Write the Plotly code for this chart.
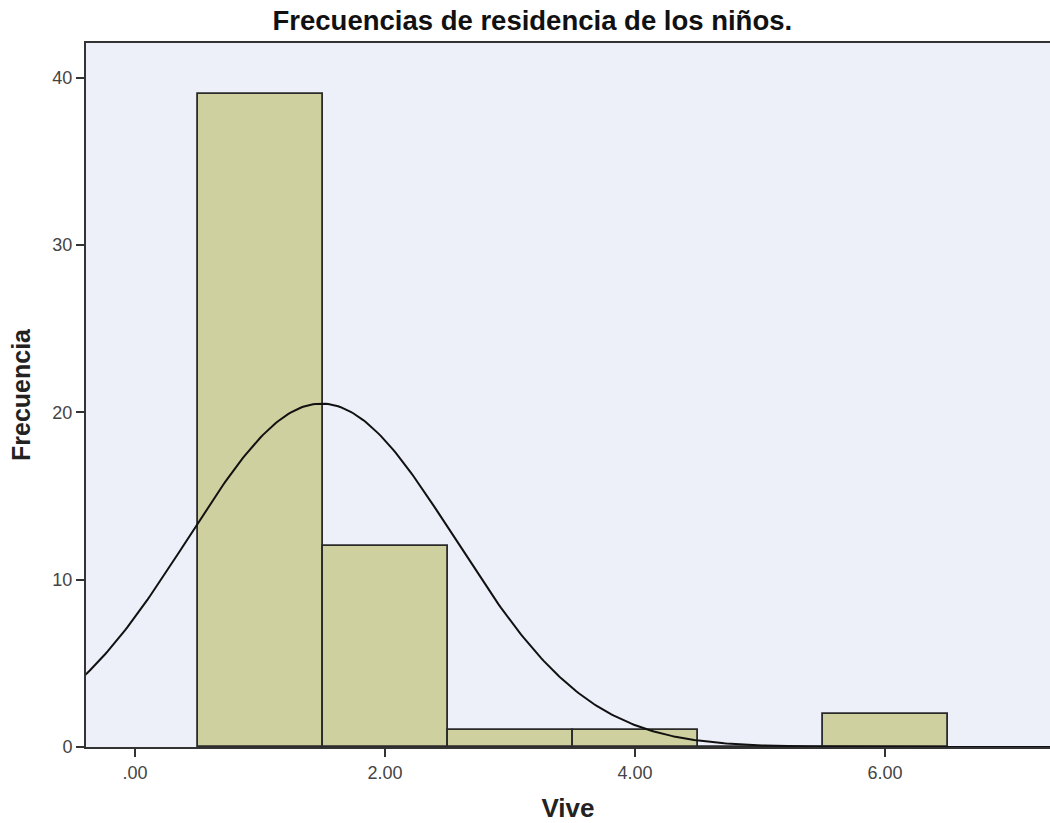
import numpy as np
import plotly.graph_objects as go

# Data
bin_centers = [1, 2, 3, 4, 5, 6]
counts = [39, 12, 1, 1, 0, 2]
x_tickvals = [0, 2, 4, 6]
x_ticktext = [".00", "2.00", "4.00", "6.00"]
y_tickvals = [0, 10, 20, 30, 40]

# Normal curve fitted from the histogram data (as SPSS does)
vals = np.repeat(bin_centers, counts)
n = len(vals)
mu = vals.mean()
sd = vals.std(ddof=1)
bin_width = 1.0
xs = np.linspace(-0.5, 7.5, 400)
ys = n * bin_width / (sd * np.sqrt(2 * np.pi)) * np.exp(-0.5 * ((xs - mu) / sd) ** 2)

fig = go.Figure()
fig.add_trace(go.Bar(
    x=bin_centers, y=counts, width=1,
    marker=dict(color="#CFD09F", line=dict(color="#2b2b2b", width=1.8)),
    showlegend=False,
))
fig.add_trace(go.Scatter(
    x=xs, y=ys, mode="lines",
    line=dict(color="#111111", width=2),
    showlegend=False,
))

fig.update_layout(
    width=1050, height=823,
    margin=dict(l=86, r=0, t=43, b=76),
    paper_bgcolor="white",
    plot_bgcolor="#EDEFF9",
    bargap=0,
    font=dict(family="Liberation Sans, Arial, sans-serif", color="#333333"),
    title=dict(
        text="<b>Frecuencias de residencia de los niños.</b>",
        x=0.507, xanchor="center", y=1 - 20 / 823, yanchor="middle",
        font=dict(size=27.5, color="#111111"), automargin=False,
    ),
    xaxis=dict(
        range=[-0.392, 7.32], automargin=False,
        tickvals=x_tickvals, ticktext=x_ticktext,
        ticks="outside", ticklen=8, tickwidth=2, tickcolor="#333333",
        showline=True, linecolor="#333333", linewidth=2, mirror=True,
        showgrid=False, zeroline=False,
        tickfont=dict(size=18, color="#444444"),
        title=dict(text="<b>Vive</b>", font=dict(size=26, color="#222222"), standoff=18),
    ),
    yaxis=dict(
        range=[0, 42.07], automargin=False,
        tickvals=y_tickvals,
        ticks="outside", ticklen=8, tickwidth=2, tickcolor="#333333",
        showline=True, linecolor="#333333", linewidth=2,
        showgrid=False, zeroline=False,
        tickfont=dict(size=18, color="#444444"),
        title=dict(text="<b>Frecuencia</b>", font=dict(size=25, color="#222222"), standoff=15),
    ),
)

fig.write_html(
    "out.html",
    config={"displayModeBar": False},
    post_script="document.body.style.margin='0';document.body.style.overflow='hidden';",
)
